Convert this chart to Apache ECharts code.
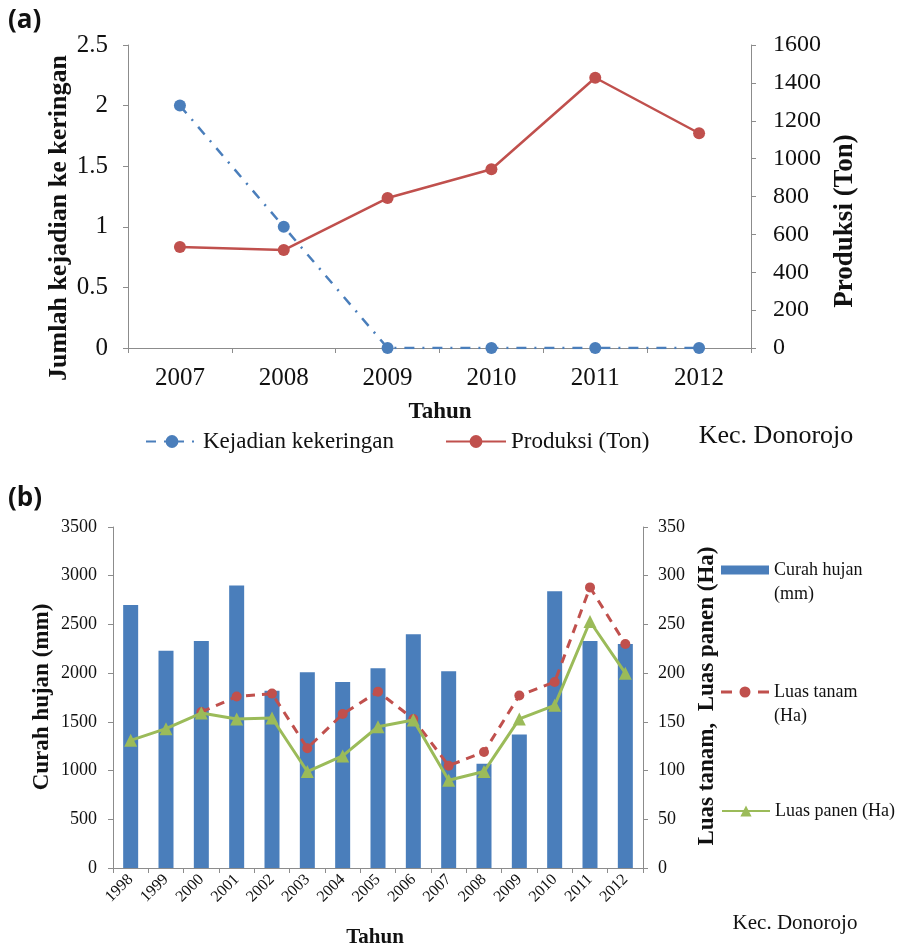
<!DOCTYPE html>
<html>
<head>
<meta charset="utf-8">
<script src="https://cdn.jsdelivr.net/npm/echarts@6/dist/echarts.min.js"></script>
<style>
  html, body { margin: 0; padding: 0; background: #fff; }
  #chart { width: 901px; height: 951px; }
</style>
</head>
<body>
<div id="chart"></div>
<script>
// (a) drought events vs. production, 2007-2012
const yearsA = ['2007', '2008', '2009', '2010', '2011', '2012'];
const kejadian = [2, 1, 0, 0, 0, 0];
const produksi = [533, 517, 792, 944, 1427, 1134];

// (b) rainfall, planted and harvested area, 1998-2012
const yearsB = ['1998', '1999', '2000', '2001', '2002', '2003', '2004', '2005',
                '2006', '2007', '2008', '2009', '2010', '2011', '2012'];
const curahHujan = [2700, 2230, 2330, 2900, 1820, 2010, 1910, 2050, 2400, 2020, 1070, 1370, 2840, 2330, 2300];
const luasTanam = [null, null, 160, 176, 179, 123, 158, 181, 153, 105, 119, 177, 191, 288, 230];
const luasPanen = [131, 143, 159, 153, 154, 99, 115, 145, 152, 90, 99, 153, 167, 253, 200];

const SERIF = '"Liberation Serif", "DejaVu Serif", serif';
const AXIS_COLOR = '#8c8c8c';
const BLUE = '#4a7ebb';
const RED = '#c0504d';
const GREEN = '#9bbb59';

// plain numbers on the value axes (no thousands separator)
const plain = v => String(v);

// Legend keys for the two-line entries: the mark sits level with the first
// text line; the tiny corner segments just stretch the icon box to 48x48.
const BOX = 'M0,0L0.01,0 M0,48L0.01,48 M47.99,48L48,48 ';
const ICON_BAR = 'path://' + BOX + 'M0,7.5H48V16.5H0Z';
const ICON_DASH_DOT = 'path://' + BOX +
  'M0,10.5H11V13.5H0Z M37,10.5H48V13.5H37Z ' +
  'M18.5,12A5.5,5.5 0 1,0 29.5,12A5.5,5.5 0 1,0 18.5,12Z';

function baseAxisStyle(fontSize, margin) {
  return {
    axisLine: { show: true, lineStyle: { color: AXIS_COLOR, width: 1 } },
    axisTick: { show: true, length: 5, lineStyle: { color: AXIS_COLOR } },
    axisLabel: { color: '#111', fontFamily: SERIF, fontSize: fontSize, margin: margin, formatter: plain },
    splitLine: { show: false }
  };
}

const chart = echarts.init(document.getElementById('chart'), null, { renderer: 'canvas' });

const option = {
  backgroundColor: '#fff',
  animation: false,
  grid: [
    { left: 128, top: 45, width: 623, height: 303 },
    { left: 113, top: 527, width: 530, height: 341 }
  ],
  xAxis: [
    Object.assign(baseAxisStyle(25, 18), {
      type: 'category', gridIndex: 0, data: yearsA, boundaryGap: true
    }),
    Object.assign(baseAxisStyle(16, 9), {
      type: 'category', gridIndex: 1, data: yearsB, boundaryGap: true,
      axisLabel: { color: '#111', fontFamily: SERIF, fontSize: 16, rotate: 45, margin: 9 }
    })
  ],
  yAxis: [
    Object.assign(baseAxisStyle(25, 20), {
      type: 'value', gridIndex: 0, position: 'left', min: 0, max: 2.5, interval: 0.5
    }),
    Object.assign(baseAxisStyle(24, 22), {
      type: 'value', gridIndex: 0, position: 'right', min: 0, max: 1600, interval: 200
    }),
    Object.assign(baseAxisStyle(18, 16), {
      type: 'value', gridIndex: 1, position: 'left', min: 0, max: 3500, interval: 500
    }),
    Object.assign(baseAxisStyle(18, 15), {
      type: 'value', gridIndex: 1, position: 'right', min: 0, max: 350, interval: 50
    })
  ],
  legend: [
    {
      left: 140, top: 425, itemWidth: 52, itemHeight: 16, itemGap: 20,
      textStyle: { fontFamily: SERIF, fontSize: 23, color: '#111' },
      data: ['Kejadian kekeringan']
    },
    {
      left: 440, top: 425, itemWidth: 60, itemHeight: 16,
      textStyle: { fontFamily: SERIF, fontSize: 23, color: '#111' },
      data: ['Produksi (Ton)']
    },
    {
      left: 716, top: 553, itemWidth: 48, itemHeight: 48, orient: 'vertical',
      icon: ICON_BAR,
      textStyle: { fontFamily: SERIF, fontSize: 18, color: '#111', lineHeight: 24 },
      data: ['Curah hujan\n(mm)']
    },
    {
      left: 716, top: 675, itemWidth: 48, itemHeight: 48, orient: 'vertical',
      icon: ICON_DASH_DOT,
      textStyle: { fontFamily: SERIF, fontSize: 18, color: '#111', lineHeight: 24 },
      data: ['Luas tanam\n(Ha)']
    },
    {
      left: 716, top: 797, itemWidth: 48, itemHeight: 14, orient: 'vertical',
      textStyle: { fontFamily: SERIF, fontSize: 18, color: '#111' },
      data: ['Luas panen (Ha)']
    }
  ],
  series: [
    {
      name: 'Kejadian kekeringan', type: 'line', xAxisIndex: 0, yAxisIndex: 0,
      data: kejadian, symbol: 'circle', symbolSize: 12,
      itemStyle: { color: BLUE },
      lineStyle: { color: BLUE, width: 2.5, type: [10, 8, 2, 8] },
      z: 3
    },
    {
      name: 'Produksi (Ton)', type: 'line', xAxisIndex: 0, yAxisIndex: 1,
      data: produksi, symbol: 'circle', symbolSize: 12,
      itemStyle: { color: RED },
      lineStyle: { color: RED, width: 2.5 },
      z: 4
    },
    {
      name: 'Curah hujan\n(mm)', type: 'bar', xAxisIndex: 1, yAxisIndex: 2,
      data: curahHujan, barWidth: 15,
      itemStyle: { color: BLUE }
    },
    {
      name: 'Luas tanam\n(Ha)', type: 'line', xAxisIndex: 1, yAxisIndex: 3,
      data: luasTanam, symbol: 'circle', symbolSize: 10,
      itemStyle: { color: RED },
      lineStyle: { color: RED, width: 3, type: [9, 7] },
      z: 3
    },
    {
      name: 'Luas panen (Ha)', type: 'line', xAxisIndex: 1, yAxisIndex: 3,
      data: luasPanen, symbol: 'triangle', symbolSize: 13,
      itemStyle: { color: GREEN },
      lineStyle: { color: GREEN, width: 3 },
      z: 4
    }
  ],
  graphic: [
    { type: 'text', left: 8, top: 8,
      style: { text: '(a)', font: 'bold 26px "Open Sans", "Liberation Sans", sans-serif', fill: '#111' } },
    { type: 'text', left: 8, top: 486,
      style: { text: '(b)', font: 'bold 26px "Open Sans", "Liberation Sans", sans-serif', fill: '#111' } },
    { type: 'text', x: 59, y: 218, rotation: Math.PI / 2,
      style: { text: 'Jumlah kejadian ke keringan', font: 'bold 26px ' + SERIF, fill: '#111',
               align: 'center', verticalAlign: 'middle' } },
    { type: 'text', x: 845, y: 221, rotation: Math.PI / 2,
      style: { text: 'Produksi (Ton)', font: 'bold 27px ' + SERIF, fill: '#111',
               align: 'center', verticalAlign: 'middle' } },
    { type: 'text', x: 440, y: 412,
      style: { text: 'Tahun', font: 'bold 23px ' + SERIF, fill: '#111',
               align: 'center', verticalAlign: 'middle' } },
    { type: 'text', x: 776, y: 436,
      style: { text: 'Kec. Donorojo', font: '26px ' + SERIF, fill: '#111',
               align: 'center', verticalAlign: 'middle' } },
    { type: 'text', x: 42, y: 697, rotation: Math.PI / 2,
      style: { text: 'Curah hujan (mm)', font: 'bold 23px ' + SERIF, fill: '#111',
               align: 'center', verticalAlign: 'middle' } },
    { type: 'text', x: 707, y: 696, rotation: Math.PI / 2,
      style: { text: 'Luas tanam,  Luas panen (Ha)', font: 'bold 23px ' + SERIF, fill: '#111',
               align: 'center', verticalAlign: 'middle' } },
    { type: 'text', x: 375, y: 938,
      style: { text: 'Tahun', font: 'bold 21px ' + SERIF, fill: '#111',
               align: 'center', verticalAlign: 'middle' } },
    { type: 'text', x: 795, y: 923,
      style: { text: 'Kec. Donorojo', font: '21px ' + SERIF, fill: '#111',
               align: 'center', verticalAlign: 'middle' } }
  ]
};

chart.setOption(option);
</script>
</body>
</html>
